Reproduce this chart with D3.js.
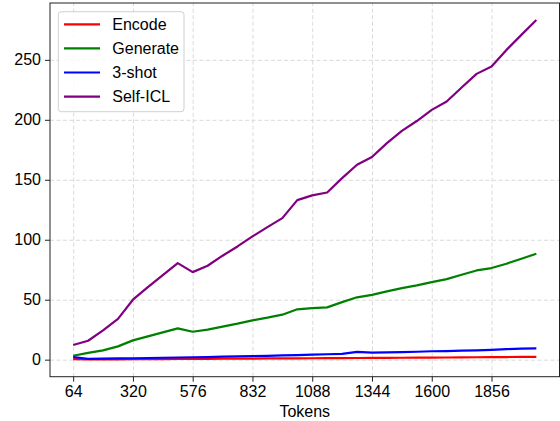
<!DOCTYPE html>
<html>
<head>
<meta charset="utf-8">
<script src="https://cdn.jsdelivr.net/npm/d3@7"></script>
<style>
  body { margin: 0; background: #fff; }
  svg { display: block; font-family: "Liberation Sans", Arial, sans-serif; }
  .grid line { stroke: #d6d6d6; stroke-dasharray: 4,2.5; stroke-width: 0.9; }
  .grid .domain { display: none; }
</style>
</head>
<body>
<div id="chart"></div>
<script>
// Data
const tokens = [64, 128, 192, 256, 320, 384, 448, 512, 576, 640, 704, 768, 832, 896, 960, 1024,
  1088, 1152, 1216, 1280, 1344, 1408, 1472, 1536, 1600, 1664, 1728, 1792, 1856, 1920, 1984, 2048];
const encode = [0.5, 0.2, 0.3, 0.3, 0.4, 0.5, 0.5, 0.6, 0.7, 0.7, 0.8, 0.9, 0.9, 1.0, 1.1, 1.1,
  1.2, 1.3, 1.3, 1.4, 1.5, 1.5, 1.6, 1.7, 1.7, 1.8, 1.9, 2.0, 2.1, 2.2, 2.3, 2.4];
const generate = [3.3, 5.6, 7.8, 11.1, 16.1, 19.4, 22.8, 26.1, 23.3, 25, 27.5, 30, 32.8, 35, 37.5, 42,
  43, 43.6, 48, 52, 54, 57, 59.7, 62, 64.7, 67.2, 70.8, 74.4, 76.4, 80, 84.2, 88.3];
const threeShot = [2.2, 0.6, 0.8, 1.0, 1.2, 1.4, 1.6, 1.8, 2.0, 2.2, 2.5, 2.7, 3.0, 3.2, 3.5, 3.8,
  4.2, 4.5, 4.8, 6.5, 5.8, 6.0, 6.3, 6.6, 7.0, 7.2, 7.5, 7.8, 8.2, 8.8, 9.2, 9.4];
const selfICL = [12.2, 15.8, 24.4, 34, 50, 60.5, 70.5, 80.5, 73, 78.3, 86.7, 94.4, 102.8, 110.5, 118, 133,
  137, 139.4, 151.4, 162.5, 169, 180.6, 190.8, 199, 208.3, 215.3, 227, 238.3, 244.4, 258.3, 270.8, 283.3];

const xTicks = [64, 320, 576, 832, 1088, 1344, 1600, 1856];
const yTicks = [0, 50, 100, 150, 200, 250];

const series = [
  { name: 'Encode', values: encode, color: '#ff0000' },
  { name: 'Generate', values: generate, color: '#008000' },
  { name: '3-shot', values: threeShot, color: '#0000ff' },
  { name: 'Self-ICL', values: selfICL, color: '#800080' },
];

const width = 560;
const height = 421;
const plot = { left: 50, right: 559.5, top: 3, bottom: 376.7 };

const svg = d3.select('#chart')
  .append('svg')
  .attr('width', width)
  .attr('height', height);

// matplotlib-like 5% margins
const xScale = d3.scaleLinear()
  .domain([64 - 99.2, 2048 + 99.2])
  .range([plot.left, plot.right]);

const yScale = d3.scaleLinear()
  .domain([-14.2, 297.4])
  .range([plot.bottom, plot.top]);

// Gridlines
svg.append('g')
  .attr('class', 'grid')
  .attr('transform', `translate(0, ${plot.bottom})`)
  .call(d3.axisBottom(xScale).tickValues(xTicks).tickFormat('')
    .tickSize(-(plot.bottom - plot.top)));

svg.append('g')
  .attr('class', 'grid')
  .attr('transform', `translate(${plot.left}, 0)`)
  .call(d3.axisLeft(yScale).tickValues(yTicks).tickFormat('')
    .tickSize(-(plot.right - plot.left)));

// Lines
const line = d3.line()
  .x((d, i) => xScale(tokens[i]))
  .y((d) => yScale(d));

svg.append('g')
  .selectAll('path')
  .data(series)
  .join('path')
  .attr('d', (d) => line(d.values))
  .attr('fill', 'none')
  .attr('stroke', (d) => d.color)
  .attr('stroke-width', 2.2)
  .attr('stroke-linejoin', 'round');

// Frame
svg.append('rect')
  .attr('x', plot.left)
  .attr('y', plot.top)
  .attr('width', plot.right - plot.left)
  .attr('height', plot.bottom - plot.top)
  .attr('fill', 'none')
  .attr('stroke', '#222')
  .attr('stroke-width', 1);

// Axes
const xAxis = svg.append('g')
  .attr('transform', `translate(0, ${plot.bottom})`)
  .call(d3.axisBottom(xScale).tickValues(xTicks).tickFormat(d3.format('d'))
    .tickSize(5).tickPadding(4));

const yAxis = svg.append('g')
  .attr('transform', `translate(${plot.left}, 0)`)
  .call(d3.axisLeft(yScale).tickValues(yTicks).tickFormat(d3.format('d'))
    .tickSize(5).tickPadding(4));

[xAxis, yAxis].forEach((g) => {
  g.select('.domain').remove();
  g.selectAll('.tick line').attr('stroke', '#222');
  g.selectAll('.tick text')
    .attr('fill', '#000')
    .style('font-size', '16px')
    .style('font-family', '"Liberation Sans", Arial, sans-serif');
});

svg.append('text')
  .attr('x', (plot.left + plot.right) / 2)
  .attr('y', 416.5)
  .attr('text-anchor', 'middle')
  .style('font-size', '16px')
  .text('Tokens');

// Legend
const legend = svg.append('g');
legend.append('rect')
  .attr('x', 58.3)
  .attr('y', 11.7)
  .attr('width', 125.7)
  .attr('height', 100)
  .attr('rx', 3)
  .attr('fill', '#fff')
  .attr('fill-opacity', 0.8)
  .attr('stroke', '#d0d0d0')
  .attr('stroke-width', 1);

const rows = legend.selectAll('g.row')
  .data(series)
  .join('g')
  .attr('class', 'row')
  .attr('transform', (d, i) => `translate(0, ${24.3 + i * 24.1})`);

rows.append('line')
  .attr('x1', 64)
  .attr('x2', 100)
  .attr('stroke', (d) => d.color)
  .attr('stroke-width', 2.2);

rows.append('text')
  .attr('x', 112.3)
  .attr('y', 0)
  .attr('dy', '0.36em')
  .style('font-size', '16px')
  .text((d) => d.name);
</script>
</body>
</html>
